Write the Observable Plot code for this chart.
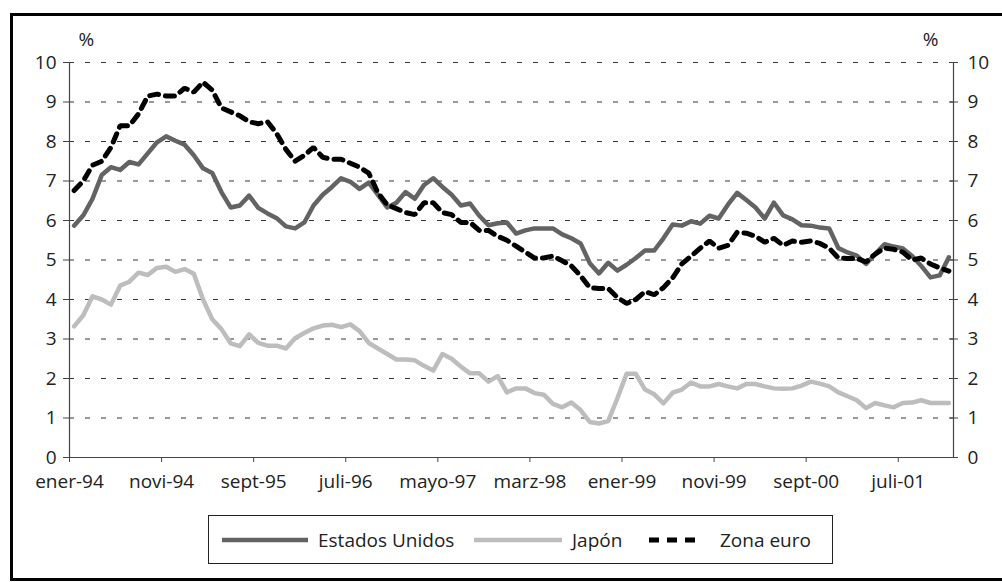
<!DOCTYPE html>
<html>
<head>
<meta charset="utf-8">
<script src="https://cdn.jsdelivr.net/npm/d3@7"></script>
<script src="https://cdn.jsdelivr.net/npm/@observablehq/plot@0.6"></script>
<style>
  html, body { margin: 0; padding: 0; background: #fff; overflow: hidden; }
  body { width: 1002px; height: 582px; position: relative; font-family: "Open Sans", sans-serif; color: #222; }
  #frame { position: absolute; left: 10px; top: 13px; width: 1010px; height: 568px; border: 3px solid #000; box-sizing: border-box; }
  #chart { position: absolute; left: 0; top: 0; }
  #legend { position: absolute; left: 208px; top: 515px; width: 625px; height: 49px; border: 1px solid #222; box-sizing: border-box; background: #fff; }
  .item { position: absolute; top: 0; height: 47px; display: flex; align-items: center; font-size: 19px; color: #222; white-space: nowrap; }
  .item svg { display: block; }
</style>
</head>
<body>
<div id="frame"></div>
<div id="chart"></div>
<div id="legend"></div>
<script>
// Monthly series, ener-94 .. dici-01 (96 months), %
const estadosUnidos = [
  5.87, 6.13, 6.55, 7.15, 7.35, 7.28, 7.48, 7.42, 7.70, 7.98,
  8.13, 8.02, 7.92, 7.65, 7.32, 7.20, 6.72, 6.33, 6.38, 6.63,
  6.32, 6.18, 6.06, 5.85, 5.80, 5.95, 6.38, 6.65, 6.85, 7.07,
  6.98, 6.80, 6.96, 6.65, 6.33, 6.45, 6.72, 6.55, 6.90, 7.07,
  6.85, 6.65, 6.38, 6.43, 6.12, 5.88, 5.93, 5.95, 5.67, 5.75,
  5.80, 5.80, 5.80, 5.65, 5.55, 5.42, 4.92, 4.66, 4.93, 4.73,
  4.88, 5.05, 5.24, 5.24, 5.55, 5.90, 5.87, 5.98, 5.92, 6.12,
  6.05, 6.40, 6.70, 6.52, 6.33, 6.05, 6.45, 6.13, 6.03, 5.88,
  5.87, 5.82, 5.80, 5.30, 5.19, 5.11, 4.90, 5.15, 5.40, 5.34,
  5.29, 5.10, 4.85, 4.56, 4.61, 5.07
];
const japon = [
  3.32, 3.60, 4.08, 4.00, 3.87, 4.35, 4.45, 4.68, 4.62, 4.80,
  4.83, 4.70, 4.77, 4.65, 4.00, 3.50, 3.25, 2.89, 2.82, 3.12,
  2.90, 2.83, 2.83, 2.76, 3.02, 3.15, 3.27, 3.34, 3.36, 3.30,
  3.37, 3.20, 2.90, 2.76, 2.62, 2.48, 2.48, 2.46, 2.32, 2.20,
  2.62, 2.50, 2.30, 2.13, 2.13, 1.92, 2.06, 1.65, 1.75, 1.75,
  1.63, 1.59, 1.36, 1.27, 1.39, 1.20, 0.90, 0.86, 0.92, 1.50,
  2.12, 2.12, 1.72, 1.60, 1.37, 1.64, 1.72, 1.90, 1.80, 1.80,
  1.86, 1.80, 1.75, 1.86, 1.86, 1.80, 1.75, 1.74, 1.75, 1.82,
  1.92, 1.87, 1.80, 1.65, 1.55, 1.45, 1.25, 1.38, 1.32, 1.27,
  1.38, 1.39, 1.45, 1.38, 1.38, 1.38
];
const zonaEuro = [
  6.76, 7.00, 7.40, 7.50, 7.85, 8.40, 8.40, 8.70, 9.15, 9.20,
  9.15, 9.15, 9.35, 9.25, 9.50, 9.30, 8.85, 8.75, 8.65, 8.50,
  8.45, 8.50, 8.20, 7.80, 7.50, 7.65, 7.85, 7.60, 7.55, 7.55,
  7.45, 7.35, 7.20, 6.70, 6.40, 6.30, 6.20, 6.15, 6.45, 6.45,
  6.20, 6.15, 5.95, 5.95, 5.75, 5.75, 5.60, 5.50, 5.35, 5.20,
  5.05, 5.05, 5.10, 4.98, 4.85, 4.60, 4.30, 4.28, 4.28, 4.05,
  3.90, 4.00, 4.20, 4.12, 4.30, 4.55, 4.90, 5.10, 5.30, 5.48,
  5.30, 5.37, 5.70, 5.68, 5.60, 5.45, 5.55, 5.37, 5.48, 5.45,
  5.48, 5.42, 5.30, 5.05, 5.04, 5.04, 4.95, 5.15, 5.30, 5.27,
  5.20, 5.00, 5.05, 4.90, 4.80, 4.72
];
const tickLabels = ["ener-94","novi-94","sept-95","juli-96","mayo-97","marz-98","ener-99","novi-99","sept-00","juli-01"];
const tickStep = 10; // months between labelled ticks
const yTicks = [0,1,2,3,4,5,6,7,8,9,10];
const gridValues = [1,2,3,4,5,6,7,8,9,10];
const seriesNames = ["Estados Unidos", "Japón", "Zona euro"];

const nMonths = estadosUnidos.length;
const rows = (arr) => arr.map((v, i) => ({x: i + 0.5, v}));
const tickPositions = tickLabels.map((_, k) => k * tickStep);

const axisColor = "#444";
const plot = Plot.plot({
  width: 1002,
  height: 500,
  marginLeft: 69,
  marginRight: 49,
  marginTop: 62,
  marginBottom: 43,
  style: {fontFamily: "Open Sans, sans-serif", fontSize: "19px", color: "#222", background: "transparent", overflow: "visible"},
  x: {type: "linear", domain: [0, nMonths]},
  y: {domain: [0, 10]},
  marks: [
    Plot.ruleY(gridValues, {stroke: "#333", strokeWidth: 1, strokeDasharray: "5,11"}),
    Plot.ruleX([0, nMonths], {stroke: axisColor, strokeWidth: 1.2}),
    Plot.ruleY([0], {stroke: axisColor, strokeWidth: 1.2}),
    Plot.axisX({ticks: tickPositions, tickFormat: d => tickLabels[Math.round(d / tickStep)], tickSize: 5, tickPadding: 12, label: null, fontSize: 19, stroke: axisColor}),
    Plot.axisY({anchor: "left", ticks: yTicks, tickSize: 6, tickPadding: 7, label: null, fontSize: 19, stroke: axisColor}),
    Plot.axisY({anchor: "right", ticks: yTicks, tickSize: 8, tickPadding: 10, dx: -4, label: null, fontSize: 19, stroke: axisColor}),
    Plot.line(rows(japon), {x: "x", y: "v", stroke: "#bdbdbd", strokeWidth: 4.5, strokeLinejoin: "round"}),
    Plot.line(rows(estadosUnidos), {x: "x", y: "v", stroke: "#636363", strokeWidth: 4.5, strokeLinejoin: "round"}),
    Plot.line(rows(zonaEuro), {x: "x", y: "v", stroke: "#000", strokeWidth: 5, strokeDasharray: "9,7", strokeLinejoin: "miter"}),
    Plot.text(["%"], {frameAnchor: "top-left", dx: 9, dy: -30, fontSize: 19, fill: "#222"}),
    Plot.text(["%"], {frameAnchor: "top-right", dx: -15, dy: -30, fontSize: 19, fill: "#222"})
  ]
});
document.getElementById("chart").appendChild(plot);

// Legend
const legend = document.getElementById("legend");
const items = [
  {name: seriesNames[0], left: 13, w: 86, color: "#636363", width: 4.5, dash: null, textGap: 10},
  {name: seriesNames[1], left: 265, w: 88, color: "#bdbdbd", width: 4.5, dash: null, textGap: 10},
  {name: seriesNames[2], left: 440, w: 54, color: "#000", width: 5, dash: "10,8", textGap: 17}
];
for (const it of items) {
  const div = document.createElement("div");
  div.className = "item";
  div.style.left = it.left + "px";
  const svg = d3.create("svg").attr("width", it.w).attr("height", 10);
  svg.append("line").attr("x1", 0).attr("x2", it.w).attr("y1", 5).attr("y2", 5)
    .attr("stroke", it.color).attr("stroke-width", it.width)
    .attr("stroke-dasharray", it.dash);
  div.appendChild(svg.node());
  const span = document.createElement("span");
  span.textContent = it.name;
  span.style.marginLeft = it.textGap + "px";
  div.appendChild(span);
  legend.appendChild(div);
}
</script>
</body>
</html>
